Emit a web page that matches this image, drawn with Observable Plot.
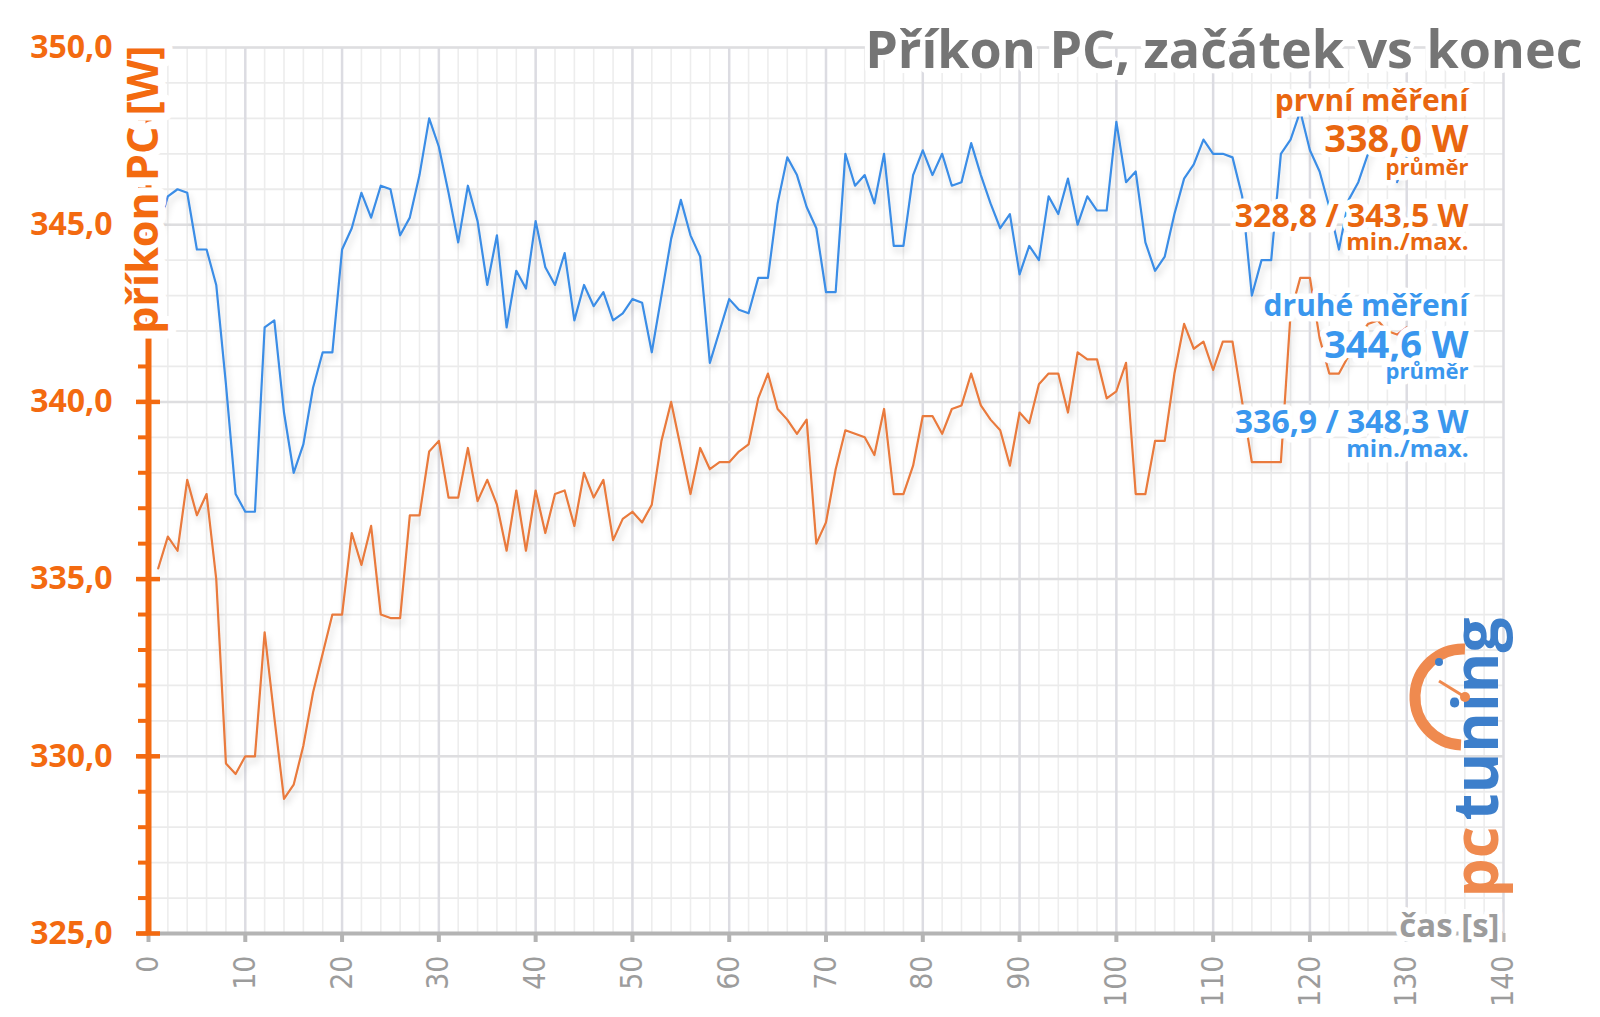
<!DOCTYPE html>
<html>
<head>
<meta charset="utf-8">
<script src="https://cdn.jsdelivr.net/npm/d3@7"></script>
<script src="https://cdn.jsdelivr.net/npm/@observablehq/plot@0.6"></script>
<style>
html, body { margin: 0; padding: 0; background: #ffffff; }
#chart { width: 1600px; height: 1017px; }
</style>
</head>
<body>
<div id="chart"></div>
<script>
// ---- data ----
// first measurement ("první měření"), one value per second starting at t = 1 s
const firstRun = [
  335.3, 336.2, 335.8, 337.8, 336.8, 337.4, 335.0, 329.8, 329.5, 330.0,
  330.0, 333.5, 331.1, 328.8, 329.2, 330.3, 331.8, 332.9, 334.0, 334.0,
  336.3, 335.4, 336.5, 334.0, 333.9, 333.9, 336.8, 336.8, 338.6, 338.9,
  337.3, 337.3, 338.7, 337.2, 337.8, 337.1, 335.8, 337.5, 335.8, 337.5,
  336.3, 337.4, 337.5, 336.5, 338.0, 337.3, 337.8, 336.1, 336.7, 336.9,
  336.6, 337.1, 338.9, 340.0, 338.7, 337.4, 338.7, 338.1, 338.3, 338.3,
  338.6, 338.8, 340.1, 340.8, 339.8, 339.5, 339.1, 339.5, 336.0, 336.6,
  338.1, 339.2, 339.1, 339.0, 338.5, 339.8, 337.4, 337.4, 338.2, 339.6,
  339.6, 339.1, 339.8, 339.9, 340.8, 339.9, 339.5, 339.2, 338.2, 339.7,
  339.4, 340.5, 340.8, 340.8, 339.7, 341.4, 341.2, 341.2, 340.1, 340.3,
  341.1, 337.4, 337.4, 338.9, 338.9, 340.8, 342.2, 341.5, 341.7, 340.9,
  341.7, 341.7, 340.0, 338.3, 338.3, 338.3, 338.3, 342.5, 343.5, 343.5,
  341.8, 340.8, 340.8, 341.3, 341.8, 342.2, 342.3, 342.0, 341.9, 342.1
];
// second measurement ("druhé měření")
const secondRun = [
  344.9, 345.8, 346.0, 345.9, 344.3, 344.3, 343.3, 340.5, 337.4, 336.9,
  336.9, 342.1, 342.3, 339.7, 338.0, 338.8, 340.4, 341.4, 341.4, 344.3,
  344.9, 345.9, 345.2, 346.1, 346.0, 344.7, 345.2, 346.4, 348.0, 347.2,
  345.9, 344.5, 346.1, 345.1, 343.3, 344.7, 342.1, 343.7, 343.2, 345.1,
  343.8, 343.3, 344.2, 342.3, 343.3, 342.7, 343.1, 342.3, 342.5, 342.9,
  342.8, 341.4, 343.0, 344.6, 345.7, 344.7, 344.1, 341.1, 342.0, 342.9,
  342.6, 342.5, 343.5, 343.5, 345.6, 346.9, 346.4, 345.5, 344.9, 343.1,
  343.1, 347.0, 346.1, 346.4, 345.6, 347.0, 344.4, 344.4, 346.4, 347.1,
  346.4, 347.0, 346.1, 346.2, 347.3, 346.4, 345.6, 344.9, 345.3, 343.6,
  344.4, 344.0, 345.8, 345.3, 346.3, 345.0, 345.8, 345.4, 345.4, 347.9,
  346.2, 346.5, 344.5, 343.7, 344.1, 345.3, 346.3, 346.7, 347.4, 347.0,
  347.0, 346.9, 345.8, 343.0, 344.0, 344.0, 347.0, 347.4, 348.2, 347.1,
  346.5, 345.5, 344.3, 345.7, 346.2, 347.0, 347.4, 347.0, 346.2, 346.9
];
const xTicks = [0, 10, 20, 30, 40, 50, 60, 70, 80, 90, 100, 110, 120, 130, 140];
const xMinorTicks = [0, 2, 4, 6, 8, 10, 12, 14, 16, 18, 20, 22, 24, 26, 28, 30, 32, 34, 36, 38, 40,
  42, 44, 46, 48, 50, 52, 54, 56, 58, 60, 62, 64, 66, 68, 70, 72, 74, 76, 78, 80, 82, 84, 86, 88, 90,
  92, 94, 96, 98, 100, 102, 104, 106, 108, 110, 112, 114, 116, 118, 120, 122, 124, 126, 128, 130,
  132, 134, 136, 138, 140];
const yTicks = [325, 330, 335, 340, 345, 350];
const yMinorTicks = [325, 326, 327, 328, 329, 330, 331, 332, 333, 334, 335, 336, 337, 338, 339, 340,
  341, 342, 343, 344, 345, 346, 347, 348, 349, 350];

const titleText = ["Příkon PC, začátek vs konec"];
const yLabel = ["příkon PC [W]"];
const xLabel = ["čas [s]"];
const firstName = ["první měření"], firstAvg = ["338,0 W"], firstMinMax = ["328,8 / 343,5 W"];
const secondName = ["druhé měření"], secondAvg = ["344,6 W"], secondMinMax = ["336,9 / 348,3 W"];
const avgLabel = ["průměr"], minMaxLabel = ["min./max."];

// ---- table built from the arrays ----
const rows = firstRun.map((v, i) => ({t: i + 1, first: v, second: secondRun[i]}));

const AXIS_ORANGE = "#f36a10";
const TEXT_ORANGE = "#e9660f";
const TEXT_BLUE = "#3a97ee";
const LINE_ORANGE = "#e97a3c";
const LINE_BLUE = "#3b8de6";
const GRAY_AXIS = "#b4b4b4";
const FONT = "'Open Sans', 'Noto Sans', sans-serif";

const halo = w => ({stroke: "white", strokeWidth: w, paintOrder: "stroke", strokeLinejoin: "round"});
const legend = (data, fill, fontSize, dy) => Plot.text(data, {
  frameAnchor: "top-right", textAnchor: "end", lineAnchor: "bottom",
  dx: -35, dy, fill, fontSize, fontWeight: "bold", fontFamily: FONT, ...halo(11)
});

const plot = Plot.plot({
  width: 1600,
  height: 1017,
  marginLeft: 148,
  marginRight: 97,
  marginTop: 47,
  marginBottom: 84,
  style: {fontFamily: FONT, background: "#ffffff", overflow: "visible"},
  x: {domain: [0, 140], axis: null},
  y: {domain: [325, 350], axis: null},
  marks: [
    Plot.gridX(xMinorTicks, {stroke: "#ededed", strokeOpacity: 1, strokeWidth: 1.6}),
    Plot.gridY(yMinorTicks, {stroke: "#ebebeb", strokeOpacity: 1, strokeWidth: 1.8}),
    Plot.gridX(xTicks, {stroke: "#dcdce2", strokeOpacity: 1, strokeWidth: 2.5}),
    Plot.gridY(yTicks, {stroke: "#dedee0", strokeOpacity: 1, strokeWidth: 2.5}),
    Plot.lineY(rows, {x: "t", y: "first", stroke: LINE_ORANGE, strokeWidth: 2.2}),
    Plot.lineY(rows, {x: "t", y: "second", stroke: LINE_BLUE, strokeWidth: 2.2}),
    Plot.ruleY([325], {stroke: GRAY_AXIS, strokeWidth: 4}),
    Plot.axisX(xTicks, {
      tickSize: 9, tickPadding: 13, tickRotate: -90, stroke: GRAY_AXIS, strokeWidth: 4,
      fill: "#9c9c9c", fontSize: 30, fontFamily: "'Liberation Sans Narrow', 'DejaVu Sans Condensed', 'Open Sans', sans-serif",
      label: null
    }),
    Plot.ruleX([0], {stroke: AXIS_ORANGE, strokeWidth: 6}),
    Plot.axisY(yMinorTicks, {tickSize: 10, tickFormat: () => "", stroke: AXIS_ORANGE, strokeWidth: 4, label: null}),
    Plot.axisY(yTicks, {tickSize: 24, dx: 12, tickFormat: () => "", stroke: AXIS_ORANGE, strokeWidth: 4.5, label: null}),
    Plot.axisY(yTicks, {
      tickSize: 0, tickPadding: 36, tickFormat: d => d.toFixed(1).replace(".", ","),
      fill: AXIS_ORANGE, fontSize: 32, fontWeight: "bold", fontFamily: FONT, label: null
    }),
    Plot.text(yLabel, {
      frameAnchor: "top-left", rotate: -90, textAnchor: "end", lineAnchor: "bottom",
      dx: 9, dy: -2, fill: AXIS_ORANGE, fontSize: 43, fontWeight: "bold", fontFamily: FONT, ...halo(16)
    }),
    Plot.text(xLabel, {
      frameAnchor: "bottom-right", textAnchor: "end", lineAnchor: "bottom",
      dx: -4, dy: 3, fill: "#9c9c9c", fontSize: 33, fontWeight: "bold", fontFamily: FONT, ...halo(10)
    }),
    Plot.text(titleText, {
      frameAnchor: "top-right", textAnchor: "end", lineAnchor: "bottom",
      dx: 79, dy: 20, fill: "#757575", fontSize: 52, fontWeight: "bold", fontFamily: FONT, ...halo(10)
    }),
    legend(firstName, TEXT_ORANGE, 30, 63),
    legend(firstAvg, TEXT_ORANGE, 38, 104),
    legend(avgLabel, TEXT_ORANGE, 22, 127),
    legend(firstMinMax, TEXT_ORANGE, 32, 179),
    legend(minMaxLabel, TEXT_ORANGE, 24, 202),
    legend(secondName, TEXT_BLUE, 30, 268),
    legend(secondAvg, TEXT_BLUE, 38, 310),
    legend(avgLabel, TEXT_BLUE, 22, 331),
    legend(secondMinMax, TEXT_BLUE, 32, 385),
    legend(minMaxLabel, TEXT_BLUE, 24, 409),
    // logo text
    Plot.text(["pc"], {
      frameAnchor: "bottom-right", rotate: -90, textAnchor: "start", lineAnchor: "bottom",
      dx: -6, dy: -36, fill: "#ef8a4f", fontSize: 62, fontWeight: "bold", fontFamily: FONT
    }),
    Plot.text(["tuning"], {
      frameAnchor: "bottom-right", rotate: -90, textAnchor: "start", lineAnchor: "bottom",
      dx: -6, dy: -113, fill: "#3d7fcb", fontSize: 62, fontWeight: "bold", fontFamily: FONT
    })
  ]
});

// soft shadow under the two series
const svg = d3.select(plot);
const defs = svg.insert("defs", ":first-child");
const f = defs.append("filter").attr("id", "lineShadow")
  .attr("x", "-5%").attr("y", "-10%").attr("width", "110%").attr("height", "130%");
f.append("feDropShadow").attr("dx", 2).attr("dy", 5).attr("stdDeviation", 3)
  .attr("flood-color", "#000").attr("flood-opacity", 0.16);
svg.selectAll('g[aria-label="line"]').attr("filter", "url(#lineShadow)");

// clock of the logo, placed relative to the frame
const xs = plot.scale("x"), ys = plot.scale("y");
const fx = xs.range[1], fy = ys.range[0];
const cx = fx - 38, cy = fy - 236, r = 48;
const logo = svg.append("g").attr("aria-label", "logo");
logo.append("path")
  .attr("d", `M${cx},${cy - r} A${r},${r} 0 0,0 ${cx - 4},${cy + r}`)
  .attr("fill", "none").attr("stroke", "#ef8a4f").attr("stroke-width", 11);
logo.append("line").attr("x1", cx).attr("y1", cy).attr("x2", cx - 26).attr("y2", cy - 16)
  .attr("stroke", "#ef8a4f").attr("stroke-width", 3);
logo.append("circle").attr("cx", cx).attr("cy", cy).attr("r", 5).attr("fill", "#ef8a4f");
logo.append("circle").attr("cx", cx - 26).attr("cy", cy - 35).attr("r", 4).attr("fill", "#3d7fcb");

document.getElementById("chart").appendChild(plot);
</script>
</body>
</html>
